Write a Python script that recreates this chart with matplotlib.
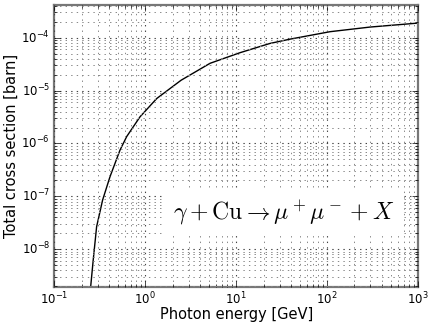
import matplotlib
matplotlib.use("Agg")
import matplotlib.pyplot as plt

energy = [0.247, 0.250, 0.268, 0.292, 0.340, 0.410, 0.528, 0.625, 0.877, 1.34,
          2.48, 5.16, 11.0, 23.6, 39.2, 108.0, 297.0, 1000.0]
sigma = [1.0e-9, 1.8e-9, 6.3e-9, 2.67e-8, 8.55e-8, 2.36e-7, 7.5e-7, 1.35e-6, 3.2e-6, 7.1e-6,
         1.57e-5, 3.28e-5, 5.2e-5, 7.8e-5, 9.4e-5, 1.30e-4, 1.59e-4, 1.89e-4]

plt.style.use("classic")
plt.rcParams["mathtext.fontset"] = "cm"
fig = plt.figure(figsize=(4.36, 3.28), dpi=100)
fig.patch.set_facecolor("white")
ax = fig.add_axes([54.3/436, 1-286.7/328, (418-54.3)/436, (286.7-5.3)/328])
ax.loglog(energy, sigma, color="black", lw=1)
ax.set_xlim(0.1, 1000)
ax.set_ylim(1.96e-9, 4.1e-4)
ax.grid(True, which="major", color="#444444", linestyle=":", lw=0.8)
ax.grid(True, which="minor", color="#888888", linestyle=":", lw=0.7)
for s in ax.spines.values():
    s.set_color("#777777")
    s.set_linewidth(1.6)
ax.tick_params(labelsize=8.5, pad=3)
ax.set_xlabel("Photon energy [GeV]", fontsize=10.5)
ax.set_ylabel("Total cross section [barn]", fontsize=10.5)
ax.xaxis.set_label_coords(0.5, -0.072)
ax.yaxis.set_label_coords(-0.098, 0.5)
ax.text(0.632, 0.262, r"$\gamma+\mathrm{Cu}\rightarrow\mu^+\mu^-+X$", transform=ax.transAxes,
        ha="center", va="center", fontsize=17,
        bbox=dict(facecolor="white", edgecolor="none", pad=6))
fig.savefig("out.png", dpi=100, facecolor="white")
